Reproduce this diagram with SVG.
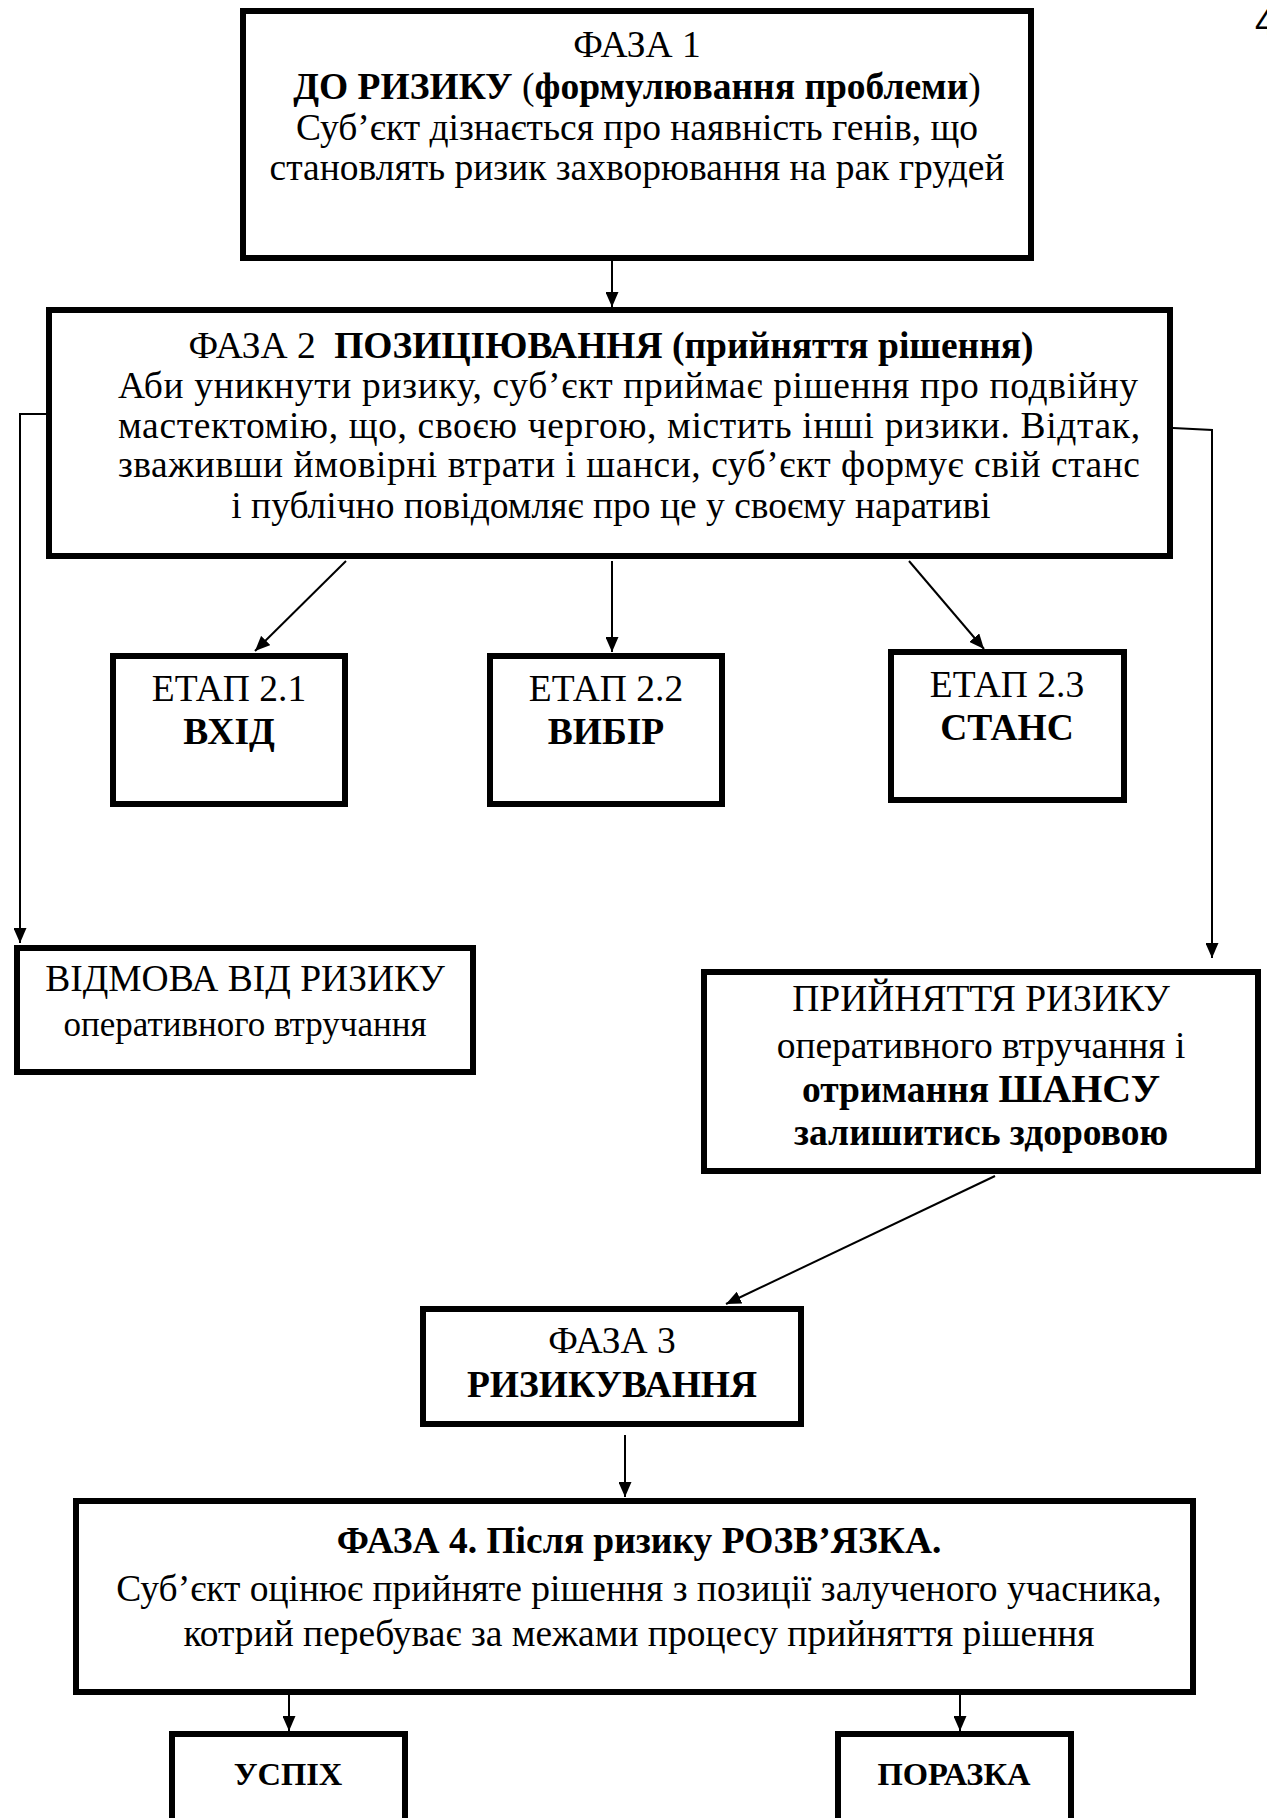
<svg xmlns="http://www.w3.org/2000/svg" width="1267" height="1818" viewBox="0 0 1267 1818">
  <style>
    .box { fill: #fff; stroke: #000; stroke-width: 6; }
    .t { font-family: "Liberation Serif", "Times New Roman", serif; font-size: 37.5px; fill: #000; text-anchor: middle; }
    .j { text-anchor: start; }
    .s { font-size: 35px; }
    .b { font-weight: bold; }
    .big { font-size: 40px; }
    .lbl { font-size: 32.5px; font-weight: bold; }
    .edge { fill: none; stroke: #000; stroke-width: 2; }
    .pg { font-family: "Liberation Sans", Arial, sans-serif; font-size: 36px; fill: #000; }
  </style>
  <defs>
    <marker id="arrow" markerUnits="userSpaceOnUse" markerWidth="15" markerHeight="13" refX="15" refY="6.5" orient="auto">
      <path d="M0,0 L15,6.5 L0,13 Z" fill="#000"/>
    </marker>
  </defs>
  <rect width="1267" height="1818" fill="#fff"/>

  <!-- page number, clipped by the right edge -->
  <text class="pg" x="1255" y="35">4</text>

  <g id="connectors">
    <line class="edge" x1="612" y1="261" x2="612" y2="307" marker-end="url(#arrow)"/>
    <polyline class="edge" points="46,414 20,414 20,943" marker-end="url(#arrow)"/>
    <polyline class="edge" points="1173,428 1212,430 1212,958" marker-end="url(#arrow)"/>
    <line class="edge" x1="346" y1="561" x2="255" y2="651" marker-end="url(#arrow)"/>
    <line class="edge" x1="612" y1="561" x2="612" y2="652" marker-end="url(#arrow)"/>
    <line class="edge" x1="909" y1="561" x2="984" y2="649" marker-end="url(#arrow)"/>
    <line class="edge" x1="995" y1="1176" x2="726" y2="1304" marker-end="url(#arrow)"/>
    <line class="edge" x1="625" y1="1435" x2="625" y2="1497" marker-end="url(#arrow)"/>
    <line class="edge" x1="289" y1="1695" x2="289" y2="1731" marker-end="url(#arrow)"/>
    <line class="edge" x1="960" y1="1695" x2="960" y2="1731" marker-end="url(#arrow)"/>
  </g>

  <g id="phase1">
    <rect class="box" x="243" y="11" width="788" height="247"/>
    <text class="t" x="637" y="57">ФАЗА 1</text>
    <text class="t" x="637" y="99"><tspan class="b">ДО РИЗИКУ</tspan> (<tspan class="b">формулювання проблеми</tspan>)</text>
    <text class="t" x="637" y="140">Суб’єкт дізнається про наявність генів, що</text>
    <text class="t" x="637" y="180">становлять ризик захворювання на рак грудей</text>
  </g>

  <g id="phase2">
    <rect class="box" x="49" y="310" width="1121" height="246"/>
    <text class="t" x="611" y="358">ФАЗА 2 <tspan class="b" dx="9">ПОЗИЦІЮВАННЯ (прийняття рішення)</tspan></text>
    <text class="t j" x="118" y="398" textLength="1020" lengthAdjust="spacing">Аби уникнути ризику, суб’єкт приймає рішення про подвійну</text>
    <text class="t j" x="118" y="438" textLength="1022" lengthAdjust="spacing">мастектомію, що, своєю чергою, містить інші ризики. Відтак,</text>
    <text class="t j" x="118" y="477" textLength="1022" lengthAdjust="spacing">зваживши ймовірні втрати і шанси, суб’єкт формує свій станс</text>
    <text class="t" x="611" y="518">і публічно повідомляє про це у своєму наративі</text>
  </g>

  <g id="stage21">
    <rect class="box" x="113" y="656" width="232" height="148"/>
    <text class="t" x="229" y="701">ЕТАП 2.1</text>
    <text class="t b" x="229" y="744">ВХІД</text>
  </g>

  <g id="stage22">
    <rect class="box" x="490" y="656" width="232" height="148"/>
    <text class="t" x="606" y="701">ЕТАП 2.2</text>
    <text class="t b" x="606" y="744">ВИБІР</text>
  </g>

  <g id="stage23">
    <rect class="box" x="891" y="652" width="233" height="148"/>
    <text class="t" x="1007" y="697">ЕТАП 2.3</text>
    <text class="t b" x="1007" y="740">СТАНС</text>
  </g>

  <g id="refusal">
    <rect class="box" x="17" y="948" width="456" height="124"/>
    <text class="t" x="245" y="991">ВІДМОВА ВІД РИЗИКУ</text>
    <text class="t s" x="245" y="1036">оперативного втручання</text>
  </g>

  <g id="acceptance">
    <rect class="box" x="704" y="972" width="554" height="199"/>
    <text class="t" x="981" y="1011">ПРИЙНЯТТЯ РИЗИКУ</text>
    <text class="t" x="981" y="1058">оперативного втручання і</text>
    <text class="t b" x="981" y="1102">отримання <tspan class="big">ШАНСУ</tspan></text>
    <text class="t b" x="981" y="1145">залишитись здоровою</text>
  </g>

  <g id="phase3">
    <rect class="box" x="423" y="1309" width="378" height="115"/>
    <text class="t" x="612" y="1353">ФАЗА 3</text>
    <text class="t b" x="612" y="1397">РИЗИКУВАННЯ</text>
  </g>

  <g id="phase4">
    <rect class="box" x="76" y="1501" width="1117" height="191"/>
    <text class="t b" x="639" y="1553">ФАЗА 4. Після ризику РОЗВ’ЯЗКА.</text>
    <text class="t" x="639" y="1601">Суб’єкт оцінює прийняте рішення з позиції залученого учасника,</text>
    <text class="t" x="639" y="1646">котрий перебуває за межами процесу прийняття рішення</text>
  </g>

  <g id="success">
    <rect class="box" x="172" y="1734" width="233" height="120"/>
    <text class="t lbl" x="288" y="1785">УСПІХ</text>
  </g>

  <g id="failure">
    <rect class="box" x="838" y="1734" width="233" height="120"/>
    <text class="t lbl" x="954" y="1785">ПОРАЗКА</text>
  </g>
</svg>
